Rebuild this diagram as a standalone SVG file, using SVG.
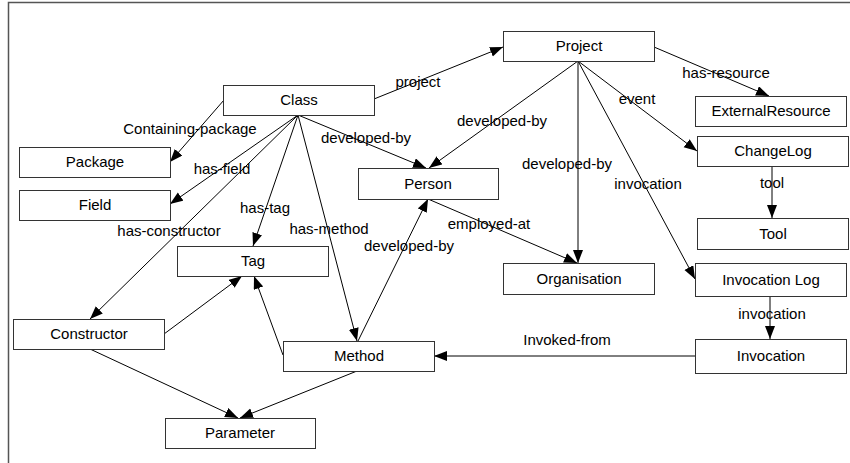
<svg xmlns="http://www.w3.org/2000/svg" width="850" height="463" viewBox="0 0 850 463">
<defs>
<marker id="arr" markerUnits="userSpaceOnUse" markerWidth="14" markerHeight="12" refX="13" refY="5" orient="auto">
<path d="M0,0 L13,5 L0,10 z" fill="#000"/>
</marker>
<style>
.box{fill:#fff;stroke:#333;stroke-width:1}
.nt{font-family:"Liberation Sans",Arial,sans-serif;font-size:15px;text-anchor:middle;fill:#000}
.lb{font-family:"Liberation Sans",Arial,sans-serif;font-size:15px;text-anchor:middle;fill:#000}
.e{stroke:#000;stroke-width:1;fill:none;marker-end:url(#arr)}
.frame{stroke:#555;stroke-width:1.5;fill:none}
</style>
</defs>
<rect width="850" height="463" fill="#fff"/>
<path class="frame" d="M8.5,463 L8.5,2.5 L850,2.5"/>
<g id="connectors">
<line class="e" x1="224" y1="100" x2="170" y2="162"/>
<line class="e" x1="298" y1="115" x2="170" y2="204"/>
<line class="e" x1="298" y1="115" x2="90" y2="319"/>
<line class="e" x1="298" y1="115" x2="253" y2="246"/>
<line class="e" x1="298" y1="115" x2="357" y2="341"/>
<line class="e" x1="298" y1="115" x2="426" y2="168"/>
<line class="e" x1="374" y1="99" x2="503" y2="47"/>
<line class="e" x1="578" y1="61" x2="429" y2="168"/>
<line class="e" x1="578" y1="61" x2="578" y2="263"/>
<line class="e" x1="578" y1="61" x2="695" y2="279"/>
<line class="e" x1="578" y1="61" x2="697" y2="151"/>
<line class="e" x1="654" y1="47" x2="769" y2="96"/>
<line class="e" x1="772" y1="166" x2="772" y2="218"/>
<line class="e" x1="428" y1="199" x2="577" y2="263"/>
<line class="e" x1="358" y1="341" x2="428" y2="199"/>
<line class="e" x1="770" y1="296" x2="770" y2="339"/>
<line class="e" x1="695" y1="356" x2="434" y2="356"/>
<line class="e" x1="164" y1="334" x2="242" y2="276"/>
<line class="e" x1="283" y1="355" x2="254" y2="276"/>
<line class="e" x1="90" y1="349" x2="238" y2="418"/>
<line class="e" x1="357" y1="371" x2="240" y2="418"/>
<text class="lb" x="190" y="134">Containing-package</text>
<text class="lb" x="222" y="174">has-field</text>
<text class="lb" x="169" y="236">has-constructor</text>
<text class="lb" x="265" y="213">has-tag</text>
<text class="lb" x="329" y="234">has-method</text>
<text class="lb" x="366" y="143">developed-by</text>
<text class="lb" x="418" y="87">project</text>
<text class="lb" x="502" y="126">developed-by</text>
<text class="lb" x="567" y="169">developed-by</text>
<text class="lb" x="648" y="189">invocation</text>
<text class="lb" x="637" y="104">event</text>
<text class="lb" x="726" y="78">has-resource</text>
<text class="lb" x="772" y="188">tool</text>
<text class="lb" x="489" y="229">employed-at</text>
<text class="lb" x="409" y="251">developed-by</text>
<text class="lb" x="772" y="319">invocation</text>
<text class="lb" x="567" y="345">Invoked-from</text>
</g>
<g id="class"><rect class="box" x="223.5" y="85.5" width="151" height="30"/><text class="nt" x="299" y="105">Class</text></g>
<g id="project"><rect class="box" x="503.5" y="31.5" width="151" height="30"/><text class="nt" x="579" y="51">Project</text></g>
<g id="package"><rect class="box" x="19.5" y="147.5" width="151" height="30"/><text class="nt" x="95" y="167">Package</text></g>
<g id="field"><rect class="box" x="19.5" y="190.5" width="151" height="30"/><text class="nt" x="95" y="210">Field</text></g>
<g id="person"><rect class="box" x="358.5" y="168.5" width="140" height="31"/><text class="nt" x="428" y="189">Person</text></g>
<g id="externalresource"><rect class="box" x="695.5" y="96.5" width="151" height="30"/><text class="nt" x="771" y="116">ExternalResource</text></g>
<g id="changelog"><rect class="box" x="697.5" y="136.5" width="151" height="30"/><text class="nt" x="773" y="156">ChangeLog</text></g>
<g id="tool"><rect class="box" x="697.5" y="218.5" width="151" height="31"/><text class="nt" x="773" y="239">Tool</text></g>
<g id="organisation"><rect class="box" x="503.5" y="263.5" width="151" height="31"/><text class="nt" x="579" y="284">Organisation</text></g>
<g id="invocationlog"><rect class="box" x="695.5" y="263.5" width="151" height="33"/><text class="nt" x="771" y="285">Invocation Log</text></g>
<g id="invocation"><rect class="box" x="695.5" y="339.5" width="151" height="34"/><text class="nt" x="771" y="361">Invocation</text></g>
<g id="tag"><rect class="box" x="177.5" y="246.5" width="151" height="30"/><text class="nt" x="253" y="266">Tag</text></g>
<g id="constructor"><rect class="box" x="13.5" y="319.5" width="151" height="30"/><text class="nt" x="89" y="339">Constructor</text></g>
<g id="method"><rect class="box" x="283.5" y="341.5" width="151" height="30"/><text class="nt" x="359" y="361">Method</text></g>
<g id="parameter"><rect class="box" x="165.5" y="418.5" width="150" height="30"/><text class="nt" x="240" y="438">Parameter</text></g>
</svg>
